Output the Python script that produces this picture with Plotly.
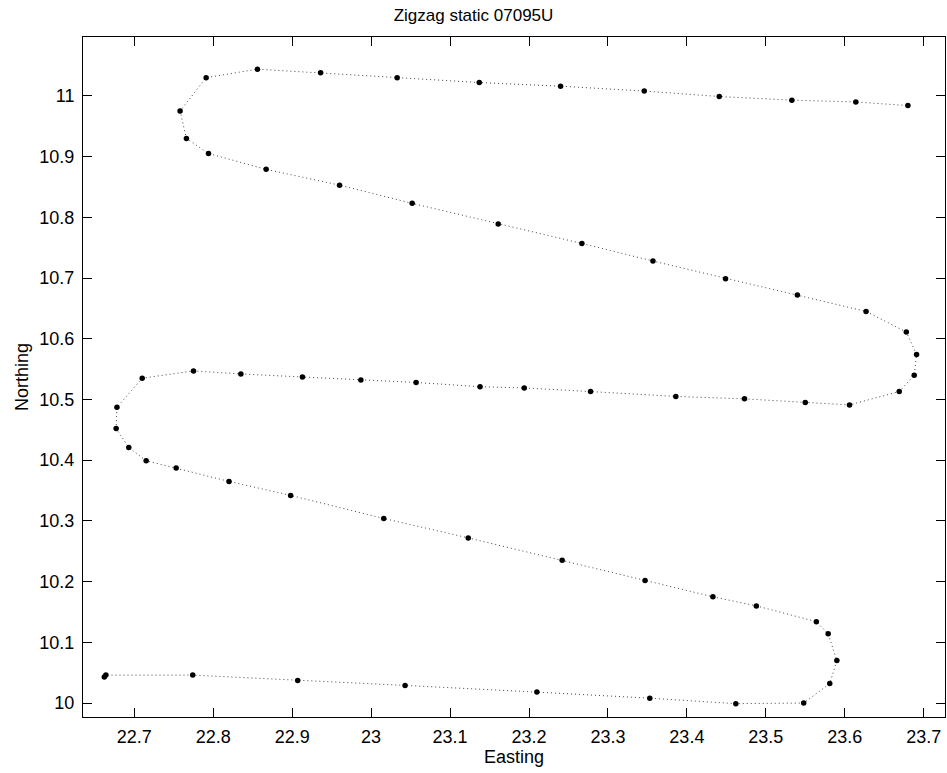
import plotly.graph_objects as go

easting = [
    22.662, 22.664, 22.774, 22.907, 23.043, 23.210, 23.353, 23.462, 23.548,
    23.581, 23.590, 23.579, 23.564,
    23.488, 23.433, 23.347, 23.242, 23.123, 23.016, 22.898, 22.820, 22.753, 22.715,
    22.693, 22.677, 22.678, 22.710,
    22.775, 22.835, 22.913, 22.987, 23.057, 23.138, 23.194, 23.278, 23.386, 23.473, 23.550, 23.606,
    23.669, 23.688, 23.691, 23.678,
    23.627, 23.540, 23.449, 23.357, 23.267, 23.161, 23.052, 22.960, 22.867, 22.794,
    22.766, 22.758, 22.791,
    22.856, 22.936, 23.033, 23.137, 23.240, 23.346, 23.441, 23.533, 23.614, 23.680,
]
northing = [
    10.043, 10.046, 10.046, 10.037, 10.029, 10.018, 10.008, 9.999, 10.000,
    10.032, 10.070, 10.114, 10.134,
    10.160, 10.175, 10.202, 10.235, 10.272, 10.304, 10.342, 10.365, 10.387, 10.399,
    10.421, 10.452, 10.487, 10.535,
    10.547, 10.542, 10.537, 10.532, 10.528, 10.521, 10.519, 10.513, 10.505, 10.501, 10.495, 10.491,
    10.513, 10.540, 10.574, 10.611,
    10.645, 10.672, 10.699, 10.728, 10.757, 10.789, 10.823, 10.853, 10.879, 10.905,
    10.930, 10.975, 11.030,
    11.044, 11.038, 11.030, 11.022, 11.016, 11.008, 10.999, 10.993, 10.990, 10.984,
]

title_text = "Zigzag static 07095U"
x_label = "Easting"
y_label = "Northing"

FONT = "Liberation Sans, Arial, sans-serif"

fig = go.Figure()
fig.add_trace(go.Scatter(
    x=easting, y=northing, mode="lines+markers",
    line=dict(color="#444444", width=1, dash="1px,3px"),
    marker=dict(color="black", size=5.5, symbol="circle"),
    showlegend=False,
))

axis_common = dict(
    showgrid=False, zeroline=False,
    showline=True, linecolor="black", linewidth=1, mirror="ticks",
    ticks="inside", ticklen=9, tickwidth=1, tickcolor="black",
    tickfont=dict(family=FONT, size=18, color="black"),
    dtick=0.1,
)

fig.update_layout(
    width=947, height=773,
    paper_bgcolor="white", plot_bgcolor="white",
    margin=dict(l=83, r=2, t=37, b=56, autoexpand=False),
    title=dict(text=title_text, x=0.5, xanchor="center", y=1 - 15 / 773, yanchor="middle",
               font=dict(family=FONT, size=17, color="black")),
    xaxis=dict(range=[22.635, 23.727], tick0=22.7,
               title=dict(text=x_label, font=dict(family=FONT, size=18, color="black"), standoff=2),
               ticklabelstandoff=3, **axis_common),
    yaxis=dict(range=[9.977, 11.097], tick0=10,
               title=dict(text=y_label, font=dict(family=FONT, size=18, color="black"), standoff=6),
               ticklabelstandoff=4, **axis_common),
)

fig.write_html("out.html")
